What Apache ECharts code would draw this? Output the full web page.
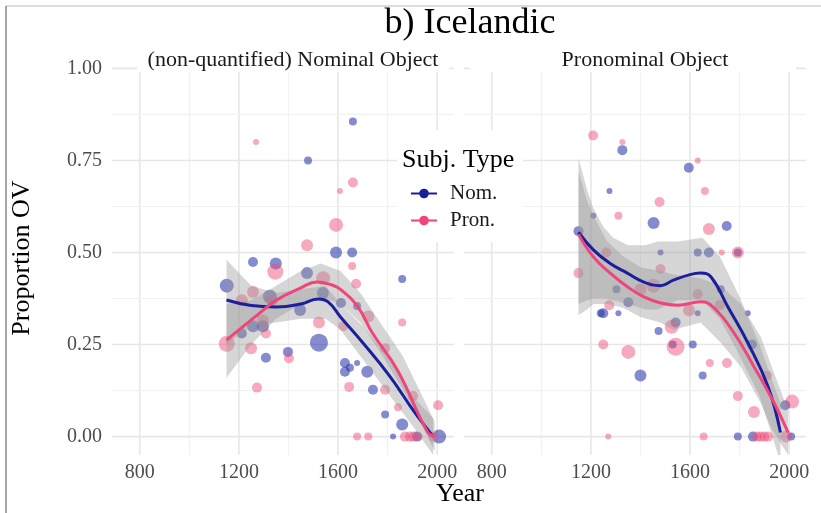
<!DOCTYPE html>
<html><head><meta charset="utf-8">
<script src="https://cdn.jsdelivr.net/npm/echarts@6/dist/echarts.min.js"></script>
<style>html,body{margin:0;padding:0;background:#fff}#c{width:821px;height:513px}</style>
</head><body><div id="c"></div>
<script>
const chartTitle = 'b) Icelandic';
const panels = ['(non-quantified) Nominal Object', 'Pronominal Object'];
const subjTypes = ['Nom.', 'Pron.'];
const legendTitle = 'Subj. Type';
const xTitle = 'Year';
const yTitle = 'Proportion OV';
const xTicks = [800, 1200, 1600, 2000];
const xMinor = [1000, 1400, 1800];
const yTicks = [0, 0.25, 0.5, 0.75, 1];
const yTickLabels = ['0.00', '0.25', '0.50', '0.75', '1.00'];
const yMinor = [0.125, 0.375, 0.625, 0.875];

// texts: [year, proportion OV, weight (text size)]
const nominalObjNomSubj = [
  [1151,0.41,5],[1257,0.474,3],[1349,0.47,4],[1325,0.38,5],[1257,0.30,4],[1297,0.30,4],
  [1212,0.28,3],[1309,0.214,3],[1398,0.23,3],[1660,0.856,2],[1479,0.75,2],[1592,0.50,4],
  [1657,0.50,3],[1475,0.444,4],[1539,0.39,4],[1612,0.363,3],[1447,0.344,4],[1677,0.355,2],
  [1523,0.255,7],[1628,0.20,3],[1628,0.176,3],[1648,0.187,2],[1677,0.20,1],[1718,0.176,4],
  [1741,0.127,3],[1859,0.428,2],[1790,0.06,2],[1859,0.033,4],[1822,0.0,1],[1919,0.0,3],[2008,0.0,5]
];
const nominalObjPronSubj = [
  [1151,0.252,6],[1257,0.393,4],[1212,0.37,4],[1347,0.448,6],[1333,0.37,4],[1297,0.315,4],
  [1309,0.28,3],[1249,0.24,4],[1273,0.133,3],[1402,0.213,3],[1269,0.80,1],[1660,0.69,3],
  [1608,0.667,1],[1592,0.575,5],[1475,0.52,4],[1657,0.463,2],[1673,0.415,3],[1540,0.43,5],
  [1722,0.326,4],[1621,0.30,3],[1523,0.31,4],[1645,0.135,3],[1790,0.24,3],[1790,0.127,3],
  [1859,0.31,2],[1903,0.11,3],[2004,0.085,3],[1842,0.08,2],[1677,0.0,2],[1722,0.0,2],
  [1870,0.0,3],[1890,0.0,3],[1905,0.0,3],[1925,0.0,2],[1984,0.0,3]
];
const pronominalObjNomSubj = [
  [1150,0.558,3],[1327,0.778,3],[1595,0.73,3],[1275,0.667,1],[1210,0.60,1],[1453,0.58,4],
  [1748,0.572,3],[1481,0.50,1],[1631,0.50,2],[1676,0.50,3],[1793,0.50,2],[1303,0.40,2],
  [1351,0.365,3],[1724,0.40,2],[1250,0.335,3],[1240,0.335,2],[1311,0.335,1],[1631,0.335,1],
  [1833,0.335,1],[1542,0.31,3],[1473,0.287,2],[1530,0.25,2],[1611,0.25,2],[1850,0.25,3],
  [1400,0.166,4],[1651,0.166,2],[1984,0.085,3],[1793,0.0,2],[1854,0.0,3],[2008,0.0,2]
];
const pronominalObjPronSubj = [
  [1209,0.818,3],[1327,0.80,1],[1631,0.75,1],[1660,0.667,2],[1477,0.637,3],[1311,0.60,2],
  [1676,0.564,4],[1262,0.50,3],[1728,0.50,1],[1793,0.50,4],[1150,0.444,3],[1481,0.455,3],
  [1400,0.40,4],[1453,0.41,5],[1274,0.357,3],[1631,0.387,3],[1720,0.357,3],[1596,0.343,4],
  [1526,0.298,5],[1250,0.25,3],[1351,0.23,5],[1542,0.244,7],[1680,0.20,2],[1749,0.20,3],
  [1911,0.166,3],[1793,0.11,3],[1858,0.067,4],[2012,0.095,5],[1270,0.0,1],[1655,0.0,2],
  [1870,0.0,3],[1885,0.0,3],[1900,0.0,3],[1915,0.0,3],[1988,0.0,4]
];

// loess fits: [year, fitted]
const nominalObjNomFit = [[1150,0.371],[1250,0.356],[1350,0.352],[1450,0.36],[1520,0.374],[1560,0.366],[1610,0.325],[1700,0.255],[1810,0.163],[1910,0.065],[1984,0.0]];
const nominalObjPronFit = [[1150,0.262],[1265,0.325],[1350,0.37],[1450,0.404],[1515,0.42],[1570,0.413],[1610,0.40],[1680,0.352],[1740,0.28],[1840,0.18],[1960,0.014],[1990,0.0]];
const pronominalObjNomFit = [[1150,0.555],[1210,0.507],[1278,0.47],[1347,0.444],[1412,0.42],[1481,0.41],[1533,0.425],[1600,0.44],[1643,0.444],[1684,0.434],[1753,0.352],[1833,0.255],[1915,0.135],[1965,0.011]];
const pronominalObjPronFit = [[1150,0.55],[1210,0.488],[1278,0.444],[1347,0.407],[1412,0.38],[1481,0.363],[1550,0.357],[1643,0.366],[1696,0.35],[1777,0.282],[1858,0.19],[1939,0.092],[1996,0.011]];

// confidence bands: [year, lower, upper]
const nominalObjNomBand = [[1150,0.25,0.48],[1250,0.30,0.41],[1350,0.31,0.39],[1450,0.32,0.40],[1550,0.32,0.41],[1610,0.29,0.36],[1700,0.21,0.30],[1810,0.11,0.21],[1900,0.03,0.11],[1984,-0.05,0.05]];
const nominalObjPronBand = [[1150,0.16,0.36],[1250,0.25,0.37],[1350,0.32,0.41],[1450,0.36,0.45],[1530,0.38,0.47],[1610,0.36,0.45],[1690,0.31,0.39],[1770,0.23,0.31],[1860,0.13,0.22],[1940,0.03,0.11],[1990,-0.04,0.04]];
const pronominalObjNomBand = [[1150,0.36,0.756],[1185,0.37,0.67],[1210,0.375,0.62],[1250,0.375,0.57],[1290,0.37,0.54],[1350,0.36,0.52],[1420,0.345,0.52],[1470,0.345,0.53],[1550,0.37,0.53],[1650,0.37,0.54],[1720,0.32,0.49],[1800,0.22,0.38],[1880,0.11,0.25],[1965,-0.07,0.09]];
const pronominalObjPronBand = [[1150,0.33,0.72],[1185,0.345,0.64],[1210,0.36,0.60],[1266,0.36,0.53],[1330,0.35,0.49],[1400,0.325,0.46],[1480,0.31,0.45],[1533,0.29,0.44],[1643,0.31,0.43],[1724,0.255,0.41],[1805,0.19,0.36],[1886,0.09,0.27],[1930,0.02,0.19],[1996,-0.05,0.07]];

const SERIF = "'Liberation Serif','Times New Roman',serif";
const NOM_LINE = '#1c1f9c', PRON_LINE = '#f0457b';
const NOM_PT = 'rgba(36,48,168,0.7)', PRON_PT = 'rgba(238,78,118,0.6)';
const BAND = 'rgba(153,153,153,0.4)';

const chart = echarts.init(document.getElementById('c'), null, {renderer: 'canvas'});

function gridlineSeries(i) {
  const data = [];
  xTicks.forEach(v => data.push([v, 0, 1, 1]));
  xMinor.forEach(v => data.push([v, 0, 1, 0]));
  yTicks.forEach(v => data.push([1000, v, 0, 1]));
  yMinor.forEach(v => data.push([1000, v, 0, 0]));
  return {
    type: 'custom', xAxisIndex: i, yAxisIndex: i, z: 0, silent: true,
    data: data,
    renderItem: function (params, api) {
      const cs = params.coordSys;
      const p = api.coord([api.value(0), api.value(1)]);
      const vertical = api.value(2) === 1;
      const major = api.value(3) === 1;
      const style = {stroke: major ? '#e7e7e7' : '#f1f1f1', lineWidth: major ? 1.6 : 1.2};
      if (vertical) return {type: 'line', shape: {x1: p[0], y1: cs.y, x2: p[0], y2: cs.y + cs.height}, style};
      return {type: 'line', shape: {x1: cs.x, y1: p[1], x2: cs.x + cs.width, y2: p[1]}, style};
    }
  };
}
function bandSeries(i, band, name) {
  return {
    type: 'custom', name: name, xAxisIndex: i, yAxisIndex: i, z: 3, silent: true, clip: true,
    data: band.map(d => [d[0], d[1], d[2]]),
    encode: {x: 0, y: [1, 2]},
    renderItem: function (params, api) {
      if (params.dataIndex !== 0) return null;
      const up = band.map(d => api.coord([d[0], d[2]]));
      const lo = band.slice().reverse().map(d => api.coord([d[0], d[1]]));
      return {type: 'polygon', shape: {points: up.concat(lo)}, style: {fill: BAND}};
    }
  };
}
function pointSeries(i, pts, color, name) {
  return {
    type: 'scatter', name: name, xAxisIndex: i, yAxisIndex: i, z: 2,
    data: pts, symbol: 'circle',
    symbolSize: v => 4 + v[2] * 2,
    itemStyle: {color: color}
  };
}
function fitSeries(i, fit, color, name) {
  return {
    type: 'line', name: name, xAxisIndex: i, yAxisIndex: i, z: 4,
    data: fit, smooth: 0.45, showSymbol: false, symbol: 'circle', symbolSize: 7,
    lineStyle: {color: color, width: 3}, itemStyle: {color: color}
  };
}

const xAxisBase = {
  type: 'value', min: 688, max: 2068,
  axisLine: {show: false}, axisTick: {show: false}, splitLine: {show: false},
  axisLabel: {customValues: xTicks, formatter: v => String(v), fontFamily: SERIF, fontSize: 20, color: '#4d4d4d', margin: 8}
};
const yAxisBase = {
  type: 'value', min: -0.05, max: 1.05,
  axisLine: {show: false}, axisTick: {show: false}, splitLine: {show: false}
};

const option = {
  backgroundColor: '#fff',
  animation: false,
  title: [
    {text: chartTitle, left: 465, top: 1, textAlign: 'center', textStyle: {fontFamily: SERIF, fontSize: 36, fontWeight: 'normal', color: '#000'}},
    {text: panels[0], left: 288, top: 44, textAlign: 'center', textStyle: {fontFamily: SERIF, fontSize: 22, fontWeight: 'normal', color: '#1a1a1a'}},
    {text: panels[1], left: 640, top: 44, textAlign: 'center', textStyle: {fontFamily: SERIF, fontSize: 22, fontWeight: 'normal', color: '#1a1a1a'}},
    {text: legendTitle, left: 397, top: 142, textStyle: {fontFamily: SERIF, fontSize: 26, fontWeight: 'normal', color: '#000'}}
  ],
  legend: {
    data: subjTypes, orient: 'vertical', left: 405, top: 178,
    itemWidth: 26, itemHeight: 12, itemGap: 6,
    textStyle: {fontFamily: SERIF, fontSize: 21, color: '#1a1a1a', padding: [0, 0, 0, 8]}
  },
  grid: [
    {left: 112, top: 50, width: 342, height: 405},
    {left: 464, top: 50, width: 342, height: 405}
  ],
  xAxis: [Object.assign({gridIndex: 0}, xAxisBase), Object.assign({gridIndex: 1}, xAxisBase)],
  yAxis: [
    Object.assign({gridIndex: 0, axisLabel: {customValues: yTicks, formatter: v => yTickLabels[yTicks.indexOf(v)] || v.toFixed(2), fontFamily: SERIF, fontSize: 20, color: '#4d4d4d', margin: 10}}, yAxisBase),
    Object.assign({gridIndex: 1, axisLabel: {show: false}}, yAxisBase)
  ],
  graphic: [
    {type: 'rect', z: 1, shape: {x: 137, y: 40, width: 312, height: 32}, style: {fill: '#fff'}},
    {type: 'rect', z: 1, shape: {x: 470, y: 40, width: 326, height: 32}, style: {fill: '#fff'}},
    {type: 'rect', z: 1, shape: {x: 397, y: 130, width: 126, height: 112}, style: {fill: '#fff'}},
    {type: 'text', z: 5, x: 22, y: 258, rotation: Math.PI / 2, style: {text: yTitle, font: '26px ' + SERIF, fill: '#000', textAlign: 'center', textVerticalAlign: 'middle'}},
    {type: 'text', z: 5, x: 460, y: 494, style: {text: xTitle, font: '26px ' + SERIF, fill: '#000', textAlign: 'center', textVerticalAlign: 'middle'}},
    {type: 'line', z: 5, shape: {x1: 6, y1: 6, x2: 821, y2: 6}, style: {stroke: '#d0d0d0', lineWidth: 1.5}},
    {type: 'line', z: 5, shape: {x1: 6, y1: 6, x2: 6, y2: 513}, style: {stroke: '#8a8a8a', lineWidth: 1.5}}
  ],
  series: [
    gridlineSeries(0), gridlineSeries(1),
    pointSeries(0, nominalObjNomSubj, NOM_PT, 'Nom. texts'),
    pointSeries(0, nominalObjPronSubj, PRON_PT, 'Pron. texts'),
    pointSeries(1, pronominalObjNomSubj, NOM_PT, 'Nom. texts'),
    pointSeries(1, pronominalObjPronSubj, PRON_PT, 'Pron. texts'),
    bandSeries(0, nominalObjNomBand, 'Nom. CI'),
    bandSeries(0, nominalObjPronBand, 'Pron. CI'),
    bandSeries(1, pronominalObjNomBand, 'Nom. CI'),
    bandSeries(1, pronominalObjPronBand, 'Pron. CI'),
    fitSeries(0, nominalObjNomFit, NOM_LINE, subjTypes[0]),
    fitSeries(0, nominalObjPronFit, PRON_LINE, subjTypes[1]),
    fitSeries(1, pronominalObjNomFit, NOM_LINE, subjTypes[0]),
    fitSeries(1, pronominalObjPronFit, PRON_LINE, subjTypes[1])
  ]
};
chart.setOption(option);
</script></body></html>
